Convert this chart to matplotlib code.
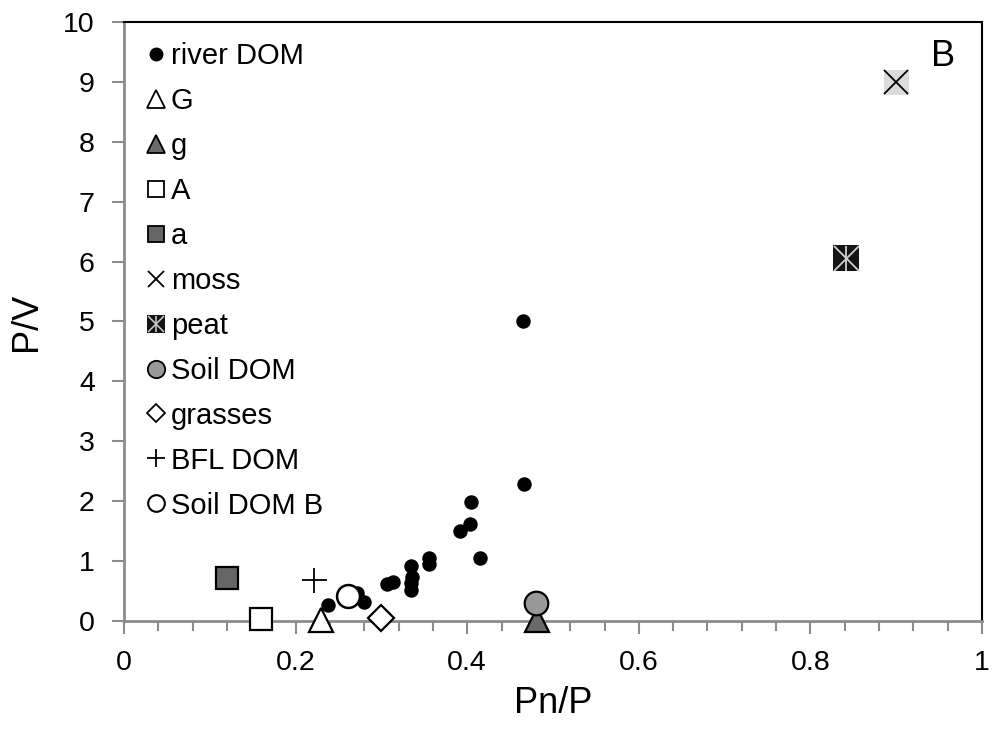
import matplotlib
matplotlib.use("Agg")
import matplotlib.pyplot as plt
from matplotlib.lines import Line2D
from matplotlib.ticker import MultipleLocator

plt.rcParams['font.family'] = ['Liberation Sans', 'DejaVu Sans']

# river DOM samples
river_x = [0.465, 0.466, 0.404, 0.403, 0.391, 0.415, 0.355, 0.355, 0.334,
           0.336, 0.335, 0.335, 0.306, 0.314, 0.272, 0.280, 0.238]
river_y = [5.00, 2.29, 1.98, 1.62, 1.50, 1.06, 1.06, 0.95, 0.92,
           0.74, 0.63, 0.52, 0.61, 0.65, 0.46, 0.31, 0.26]

# end members
G_x, G_y = [0.230], [0.02]
g_x, g_y = [0.481], [0.02]
A_x, A_y = [0.160], [0.03]
a_x, a_y = [0.120], [0.72]
moss_x, moss_y = [0.900], [9.00]
peat_x, peat_y = [0.841], [6.06]
soil_x, soil_y = [0.480], [0.30]
grass_x, grass_y = [0.300], [0.05]
bfl_x, bfl_y = [0.221], [0.68]
soilb_x, soilb_y = [0.261], [0.41]

fig = plt.figure(figsize=(9.96, 7.4), dpi=100)
ax = fig.add_axes([0.1245, 0.1608, 0.8615, 0.8095])

kw = dict(linestyle='none', clip_on=False, zorder=3)
ax.plot(river_x, river_y, marker='o', ms=9.4, mfc='black', mec='black', **kw)
ax.plot(G_x, G_y, marker='^', ms=17.5, mfc='white', mec='black', mew=1.6, **kw)
ax.plot(g_x, g_y, marker='^', ms=17.5, mfc='#6a6a6a', mec='black', mew=1.6, **kw)
ax.plot(A_x, A_y, marker='s', ms=15.5, mfc='white', mec='black', mew=1.6, **kw)
ax.plot(a_x, a_y, marker='s', ms=15.5, mfc='#666666', mec='black', mew=1.6, **kw)
ax.plot(moss_x, moss_y, marker='s', ms=18, mfc='#dcdcdc', mec='#dcdcdc', mew=0, **kw)
ax.plot(moss_x, moss_y, marker='x', ms=17, mec='black', mew=1.3, **kw)
ax.plot(peat_x, peat_y, marker='s', ms=19, mfc='#151515', mec='#151515', mew=0, **kw)
ax.plot(peat_x, peat_y, marker='x', ms=18, mec='#d0d0d0', mew=1.3, **kw)
ax.plot(peat_x, peat_y, marker='|', ms=18, mec='#d0d0d0', mew=1.3, **kw)
ax.plot(soil_x, soil_y, marker='o', ms=17, mfc='#999999', mec='black', mew=1.6, **kw)
ax.plot(grass_x, grass_y, marker='D', ms=13, mfc='white', mec='black', mew=1.6, **kw)
ax.plot(bfl_x, bfl_y, marker='+', ms=18, mec='black', mew=1.3, **kw)
ax.plot(soilb_x, soilb_y, marker='o', ms=16.5, mfc='white', mec='black', mew=1.8, **kw)

ax.set_xlim(0, 1)
ax.set_ylim(0, 10)
ax.xaxis.set_major_locator(MultipleLocator(0.2))
ax.xaxis.set_minor_locator(MultipleLocator(0.04))
ax.yaxis.set_major_locator(MultipleLocator(1))
ax.xaxis.set_major_formatter(matplotlib.ticker.FuncFormatter(lambda v, p: ('%g' % round(v, 2))))

ax.tick_params(axis='both', which='both', direction='out', color='#8c8c8c', width=1.5,
               labelsize=20.5, pad=12)
ax.tick_params(axis='both', which='major', length=9)
ax.tick_params(axis='x', which='minor', length=7)
for s in ['left', 'bottom']:
    ax.spines[s].set_color('#8c8c8c')
    ax.spines[s].set_linewidth(2)
for s in ['top', 'right']:
    ax.spines[s].set_color('black')
    ax.spines[s].set_linewidth(1.5)

ax.set_xlabel('Pn/P', fontsize=26, labelpad=7)
ax.set_ylabel('P/V', fontsize=26, labelpad=14)
ax.text(0.955, 0.943, 'B', transform=ax.transAxes, fontsize=26, ha='center', va='center')

# legend
L = dict(linestyle='none')
handles = [
    Line2D([], [], marker='o', ms=9, mfc='black', mec='black', **L),
    Line2D([], [], marker='^', ms=12.5, mfc='white', mec='black', mew=1.3, **L),
    Line2D([], [], marker='^', ms=12.5, mfc='#6a6a6a', mec='black', mew=1.3, **L),
    Line2D([], [], marker='s', ms=11.5, mfc='white', mec='black', mew=1.3, **L),
    Line2D([], [], marker='s', ms=11.5, mfc='#666666', mec='black', mew=1.3, **L),
    Line2D([], [], marker='x', ms=12, mec='black', mew=1.3, **L),
    (Line2D([], [], marker='s', ms=13, mfc='#151515', mec='#151515', mew=0, **L),
     Line2D([], [], marker='x', ms=12, mec='#d0d0d0', mew=1.1, **L),
     Line2D([], [], marker='|', ms=12, mec='#d0d0d0', mew=1.1, **L)),
    Line2D([], [], marker='o', ms=12.5, mfc='#999999', mec='black', mew=1.3, **L),
    Line2D([], [], marker='D', ms=9, mfc='white', mec='black', mew=1.3, **L),
    Line2D([], [], marker='+', ms=12.5, mec='black', mew=1.3, **L),
    Line2D([], [], marker='o', ms=12, mfc='white', mec='black', mew=1.5, **L),
]
labels = ['river DOM', 'G', 'g', 'A', 'a', 'moss', 'peat', 'Soil DOM',
          'grasses', 'BFL DOM', 'Soil DOM B']
ax.legend(handles, labels, loc='upper left', bbox_to_anchor=(0.0271, 0.966),
          frameon=False, fontsize=21, borderpad=0, borderaxespad=0,
          handlelength=0.6, handletextpad=0.21, labelspacing=0.58, numpoints=1)

fig.savefig('out.png', dpi=100)
